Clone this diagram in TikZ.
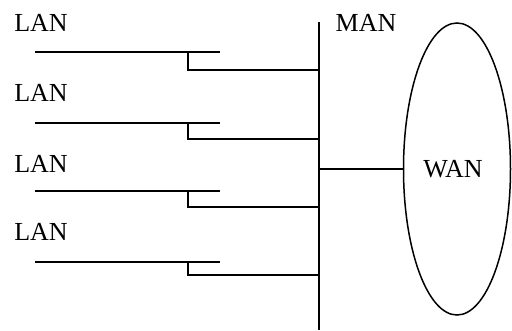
\documentclass[tikz,border=0pt]{standalone}
\usepackage{fontspec}
\setmainfont{Liberation Serif}
\usetikzlibrary{shapes.geometric}
\begin{document}
\begin{tikzpicture}[x=1pt, y=-1pt]
    \tikzstyle{wire} = [line width=1.8pt]
    \tikzstyle{label} = [font=\fontsize{26}{28}\selectfont, inner sep=0pt]
    \tikzstyle{cloud} = [ellipse, draw, line width=1.5pt, minimum width=107pt, minimum height=292pt, inner sep=0pt]
    \useasboundingbox (0,0) rectangle (512,330);
    % MAN backbone
    \coordinate (bus top) at (319, 22);
    \coordinate (bus bottom) at (319, 330);
    \draw[wire] (bus top) -- (bus bottom);
    \node[label] (man) at (366, 23) {MAN};
    % WAN
    \node[cloud] (wan) at (457, 169) {};
    \node[label] (wan label) at (453, 169) {WAN};
    \coordinate (bus wan) at (319, 169);
    \draw[wire] (bus wan) -- (wan.west);
    % LAN 1
    \node[label] (lan1) at (41, 23) {LAN};
    \coordinate (lan1 a) at (35, 52);
    \coordinate (lan1 b) at (220, 52);
    \coordinate (lan1 c) at (188, 52);
    \coordinate (lan1 d) at (188, 70);
    \coordinate (bus1) at (319, 70);
    \draw[wire] (lan1 a) -- (lan1 b);
    \draw[wire] (lan1 c) -- (lan1 d) -- (bus1);
    % LAN 2
    \node[label] (lan2) at (41, 93) {LAN};
    \coordinate (lan2 a) at (35, 123);
    \coordinate (lan2 b) at (220, 123);
    \coordinate (lan2 c) at (188, 123);
    \coordinate (lan2 d) at (188, 139);
    \coordinate (bus2) at (319, 139);
    \draw[wire] (lan2 a) -- (lan2 b);
    \draw[wire] (lan2 c) -- (lan2 d) -- (bus2);
    % LAN 3
    \node[label] (lan3) at (41, 164) {LAN};
    \coordinate (lan3 a) at (35, 191);
    \coordinate (lan3 b) at (220, 191);
    \coordinate (lan3 c) at (188, 191);
    \coordinate (lan3 d) at (188, 207);
    \coordinate (bus3) at (319, 207);
    \draw[wire] (lan3 a) -- (lan3 b);
    \draw[wire] (lan3 c) -- (lan3 d) -- (bus3);
    % LAN 4
    \node[label] (lan4) at (41, 232) {LAN};
    \coordinate (lan4 a) at (35, 262);
    \coordinate (lan4 b) at (220, 262);
    \coordinate (lan4 c) at (188, 262);
    \coordinate (lan4 d) at (188, 275);
    \coordinate (bus4) at (319, 275);
    \draw[wire] (lan4 a) -- (lan4 b);
    \draw[wire] (lan4 c) -- (lan4 d) -- (bus4);
\end{tikzpicture}
\end{document}
